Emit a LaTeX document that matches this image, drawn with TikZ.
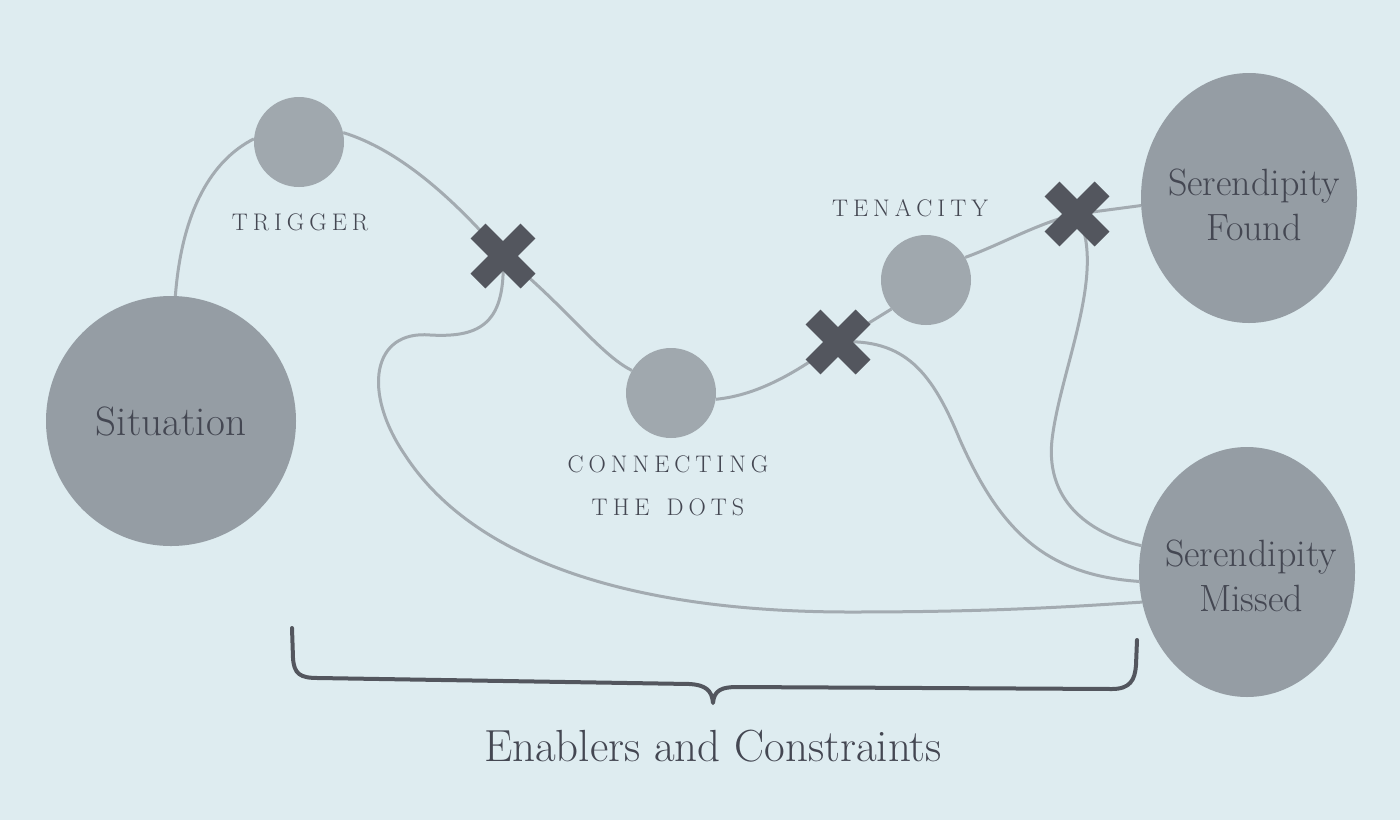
\documentclass[tikz,border=0pt]{standalone}
\usepackage{fontspec}
\usetikzlibrary{shapes.geometric}
\definecolor{paper}{HTML}{DEECF0}
\definecolor{disc}{HTML}{959DA4}
\definecolor{smalldisc}{HTML}{A0A8AE}
\definecolor{wire}{HTML}{A3ABB1}
\definecolor{ink}{HTML}{444752}
\definecolor{crossc}{HTML}{53565E}
\makeatletter
\newcommand\trackcaps[1]{\@tfor\@trkch:=#1\do{\@trkch\hspace{5pt}}\unskip}
\makeatother
\pgfdeclarelayer{bg}
\pgfsetlayers{bg,main}
\tikzset{
  bigdisc/.style={circle,fill=disc,draw=none,minimum size=250pt,inner sep=0pt},
  ovaldisc/.style={ellipse,fill=disc,draw=none,minimum width=216pt,minimum height=250pt,inner sep=0pt},
  dotdisc/.style={circle,fill=smalldisc,draw=none,minimum size=90pt,inner sep=0pt},
  disctext/.style={text=ink,align=center,inner sep=0pt,font=\fontsize{38}{45}\selectfont},
  wirepath/.style={draw=wire,line width=3pt},
  capslabel/.style={text=ink,inner sep=0pt,font=\fontsize{24}{28}\selectfont},
  bigtext/.style={text=ink,font=\fontsize{45}{52}\selectfont},
  bracepath/.style={draw=crossc,line width=4pt,line cap=round,line join=round},
  crossarm/.style={draw=crossc,line width=21pt,line cap=butt}
}
\begin{document}
\begin{tikzpicture}[x=1pt,y=-1pt]
\useasboundingbox (0,0) rectangle (1400,820);
% discs
\node[bigdisc] (sit) at (171,421) {};
\node[dotdisc] (trig) at (299,142) {};
\node[dotdisc] (dots) at (671,393) {};
\node[dotdisc] (ten) at (926,280) {};
\node[ovaldisc] (found) at (1249,198) {};
\node[ovaldisc] (missed) at (1247,572) {};
\node[disctext,font=\fontsize{41}{48}\selectfont] (tsit) at (sit) {Situation};
\node[disctext] (tfound) at (1254,205) {Serendipity\\Found};
\node[disctext] (tmissed) at (1251,576) {Serendipity\\Missed};
% crossing points
\coordinate (x1) at (503,256);
\coordinate (x2) at (838,342);
\coordinate (x3) at (1077,214);
\begin{pgfonlayer}{bg}
\fill[paper] (0,0) rectangle (1400,820);
\draw[wirepath] (sit.88) .. controls (182,210) and (212,160) .. (trig.176);
\draw[wirepath] (trig.12) .. controls (400,150) and (455,200) .. (x1);
\draw[wirepath] (x1) .. controls (560,300) and (600,355) .. (dots.150);
\draw[wirepath] (dots.-8) .. controls (760,395) and (800,370) .. (x2);
\draw[wirepath] (x2) -- (ten.220);
\draw[wirepath] (ten.30) .. controls (1000,245) and (1040,222) .. (x3);
\draw[wirepath] (x3) -- (found.184);
\draw[wirepath] (x3) .. controls (1108,270) and (1060,370) .. (1052,440)
  .. controls (1045,505) and (1095,535) .. (missed.166);
\draw[wirepath] (x2) .. controls (905,338) and (932,372) .. (960,440)
  .. controls (1000,530) and (1045,575) .. (missed.185);
\draw[wirepath] (x1) .. controls (506,322) and (482,338) .. (430,335)
  .. controls (372,330) and (362,392) .. (405,455)
  .. controls (470,555) and (620,612) .. (850,612)
  .. controls (1000,612) and (1080,606) .. (missed.196);
\end{pgfonlayer}
% crosses
\foreach \c in {x1,x2,x3}{
  \draw[crossarm] ([shift={(-25,-25)}]\c) -- ([shift={(25,25)}]\c);
  \draw[crossarm] ([shift={(-25,25)}]\c) -- ([shift={(25,-25)}]\c);
}
% labels
\node[capslabel] (ltrig) at (300,222) {\trackcaps{TRIGGER}};
\node[capslabel] (lten) at (910,208) {\trackcaps{TENACITY}};
\node[capslabel] (ldots1) at (668,464) {\trackcaps{CONNECTING}};
\node[capslabel] (ldots2) at (668,507) {\trackcaps{THE~DOTS}};
% brace
\coordinate (bl) at (292,628);
\coordinate (br) at (1137,640);
\coordinate (btip) at (713,703);
\draw[bracepath] (bl) -- (293,658) .. controls (294,674) and (300,678) .. (318,678)
  -- (690,684) .. controls (705,685) and (712,690) .. (btip)
  .. controls (714,690) and (722,687) .. (737,687)
  -- (1112,689) .. controls (1130,689) and (1135,680) .. (1136,665) -- (br);
\node[bigtext] (cap) at (713,746) {Enablers and Constraints};
\end{tikzpicture}
\end{document}
